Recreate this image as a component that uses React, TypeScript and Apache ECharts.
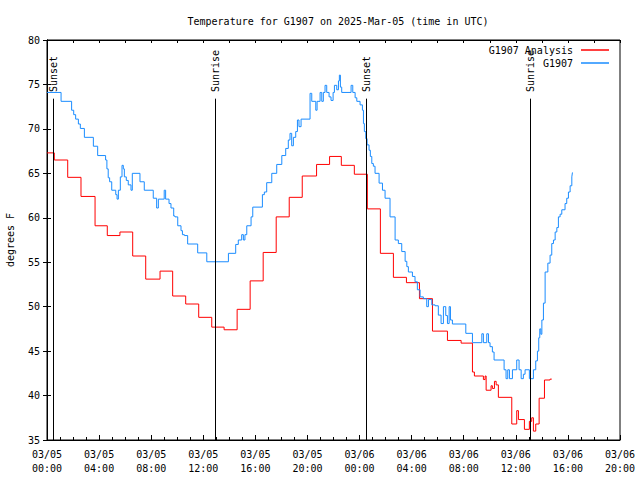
import React, { useEffect, useRef } from "react";
import * as echarts from "echarts";

// time in hours since 2025-03-05 00:00 UTC
const analysisTimes = [0, 0.56, 1.59, 2.61, 3.69, 4.63, 5.6, 6.58, 7.58, 8.68, 9.65, 10.65, 11.65, 12.65, 13.6, 14.6, 15.6, 16.6, 17.6, 18.6, 19.6, 20.7, 21.7, 22.6, 23.6, 24.6, 25.6, 26.6, 27.6, 28.6, 29.6, 30.75, 31.8, 32.67, 32.82, 33.51, 33.64, 33.72, 34.1, 34.2, 34.36, 34.49, 34.66, 35.69, 36.07, 36.2, 36.66, 37.04, 37.22, 37.35, 37.53, 37.79, 38.2, 38.63, 38.76];
const analysisValues = [67.3, 66.5, 64.55, 62.4, 59.1, 58.0, 58.4, 55.7, 53.1, 54.0, 51.2, 50.3, 48.8, 47.7, 47.4, 49.7, 52.9, 56.1, 60.1, 62.3, 64.7, 66.0, 66.9, 65.9, 64.9, 61.0, 56.0, 53.3, 52.7, 50.9, 47.25, 46.2, 45.9, 42.65, 42.2, 41.8, 42.2, 40.6, 41.1, 40.8, 41.6, 41.2, 39.8, 36.8, 38.3, 37.3, 36.2, 37.1, 37.5, 36.0, 36.8, 39.7, 41.75, 41.85, 41.85];

const stationTimes = [0, 1.08, 1.89, 2.05, 2.2, 2.41, 2.56, 2.87, 3.56, 3.89, 4.5, 4.6, 4.7, 4.81, 4.97, 5.28, 5.38, 5.48, 5.63, 5.76, 5.86, 5.94, 6.09, 6.24, 6.45, 6.55, 7.14, 7.47, 8.16, 8.42, 8.55, 9.0, 9.11, 9.37, 9.52, 9.73, 9.83, 10.04, 10.29, 10.4, 10.55, 10.8, 11.57, 12.27, 13.93, 14.49, 14.69, 14.95, 15.08, 15.2, 15.34, 15.67, 15.8, 16.54, 16.69, 16.87, 17.26, 17.64, 18.03, 18.33, 18.53, 18.66, 18.79, 18.92, 19.1, 19.23, 19.35, 19.51, 20.2, 20.33, 20.64, 20.74, 20.97, 21.1, 21.22, 21.35, 21.48, 21.66, 21.81, 21.97, 22.07, 22.25, 22.38, 22.45, 22.53, 22.63, 23.35, 23.48, 23.66, 23.79, 24.04, 24.22, 24.3, 24.37, 24.48, 24.58, 24.73, 24.83, 24.94, 25.06, 25.19, 25.5, 25.76, 25.96, 26.34, 26.73, 26.98, 27.24, 27.5, 27.63, 27.75, 28.06, 28.26, 28.44, 28.65, 28.9, 29.16, 29.29, 29.55, 29.8, 30.05, 30.26, 30.44, 30.62, 30.75, 30.88, 30.98, 31.13, 32.16, 32.67, 33.39, 33.51, 33.77, 33.9, 34.02, 34.2, 34.33, 35.1, 35.25, 35.38, 35.51, 35.74, 36.07, 36.25, 36.41, 36.58, 36.71, 37.04, 37.35, 37.53, 37.66, 37.76, 37.84, 37.92, 38.0, 38.12, 38.25, 38.46, 38.63, 38.76, 38.89, 39.02, 39.15, 39.27, 39.4, 39.53, 39.78, 39.91, 40.04, 40.17, 40.3, 40.35];
const stationValues = [74.1, 73.1, 72.1, 71.6, 71.1, 70.55, 70.05, 69.05, 68.05, 67.0, 66.5, 65.5, 64.5, 64.05, 63.1, 62.6, 62.1, 63.1, 64.6, 65.9, 65.5, 64.6, 64.2, 63.7, 63.1, 65.0, 64.05, 63.1, 62.2, 61.1, 62.1, 63.1, 62.1, 61.6, 61.1, 60.2, 60.1, 59.1, 58.55, 58.1, 58.0, 57.05, 56.05, 55.05, 56.0, 57.0, 57.5, 58.1, 57.5, 58.1, 59.1, 60.1, 61.2, 62.6, 62.9, 63.95, 65.0, 66.0, 67.0, 67.8, 68.75, 69.5, 68.1, 69.05, 69.7, 71.0, 70.25, 71.1, 74.0, 73.1, 72.1, 73.1, 74.1, 73.1, 74.1, 74.9, 74.1, 73.6, 73.2, 74.1, 74.9, 74.4, 75.4, 76.05, 74.7, 74.1, 74.9, 74.1, 73.5, 73.1, 72.7, 72.1, 70.6, 69.7, 68.9, 68.2, 67.6, 66.9, 66.1, 65.8, 65.0, 63.9, 63.1, 62.2, 60.1, 57.5, 57.1, 56.2, 55.1, 54.5, 53.9, 53.4, 52.8, 51.9, 51.1, 50.9, 50.0, 50.8, 50.2, 50.1, 49.05, 48.1, 50.0, 49.0, 48.1, 50.0, 48.5, 48.05, 47.0, 45.95, 46.95, 45.95, 46.95, 45.95, 45.5, 44.9, 44.0, 42.9, 41.9, 42.9, 41.9, 42.9, 44.0, 42.9, 41.9, 42.4, 42.9, 41.9, 42.9, 43.9, 45.0, 46.5, 47.5, 46.9, 48.5, 50.4, 53.9, 54.9, 55.8, 57.1, 57.5, 58.4, 58.9, 60.1, 60.4, 60.9, 61.6, 62.2, 62.9, 63.6, 64.6, 65.1];

const sunTimes = [0.48, 12.92, 24.53, 37.07];
const sunNames = ["Sunset", "Sunrise", "Sunset", "Sunrise"];

const xTickHours = [0, 4, 8, 12, 16, 20, 24, 28, 32, 36, 40, 44];
const yTicks = [35, 40, 45, 50, 55, 60, 65, 70, 75, 80];

const FONT = "'DejaVu Sans Mono', monospace";

function fmtHour(h: number): string {
  const day = 5 + Math.floor(h / 24);
  const hr = Math.round(h % 24);
  return `03/${String(day).padStart(2, "0")}\n${String(hr).padStart(2, "0")}:00`;
}

export default function App() {
  const ref = useRef<HTMLDivElement>(null);
  useEffect(() => {
    if (!ref.current) return;
    const chart = echarts.init(ref.current, null, { renderer: "svg" });
    const xMin = xTickHours[0];
    const xMax = xTickHours[xTickHours.length - 1];
    const yMin = yTicks[0];
    const yMax = yTicks[yTicks.length - 1];
    const textStyle = { fontFamily: FONT, fontSize: 10, color: "#000" };
    const legendCommon = {
      right: 26,
      orient: "vertical",
      align: "right",
      icon: "rect",
      itemWidth: 28,
      itemHeight: 1.5,
      textStyle: { ...textStyle, padding: [0, 3, 0, 0] },
    };
    const option: any = {
      animation: false,
      backgroundColor: "#fff",
      title: {
        text: "Temperature for G1907 on 2025-Mar-05 (time in UTC)",
        left: 333,
        textAlign: "center",
        top: 11,
        textStyle: { ...textStyle, fontWeight: "normal" },
      },
      legend: [
        { ...legendCommon, data: ["G1907 Analysis"], top: 40 },
        { ...legendCommon, data: ["G1907"], top: 53 },
      ],
      grid: {
        left: 47,
        right: 20,
        top: 40,
        bottom: 40,
        containLabel: false,
        outerBoundsMode: "none",
        show: true,
        borderColor: "#000",
        borderWidth: 1,
        backgroundColor: "transparent",
      },
      xAxis: [
        {
          type: "value",
          min: xMin,
          max: xMax,
          interval: 4,
          position: "bottom",
          axisLine: { show: true, lineStyle: { color: "#000", width: 1 } },
          axisTick: { show: true, inside: true, length: 5, lineStyle: { color: "#000" } },
          minorTick: { show: true, splitNumber: 4, length: 3, lineStyle: { color: "#000" } },
          splitLine: { show: false },
          axisLabel: {
            ...textStyle,
            margin: 7,
            lineHeight: 14,
            formatter: (v: number) => fmtHour(v),
          },
        },
        {
          type: "value",
          min: xMin,
          max: xMax,
          interval: 2,
          position: "top",
          axisLine: { show: true, lineStyle: { color: "#000", width: 1 } },
          axisTick: { show: true, inside: true, length: 3, lineStyle: { color: "#000" } },
          splitLine: { show: false },
          axisLabel: { show: false },
        },
      ],
      yAxis: [
        {
          type: "value",
          min: yMin,
          max: yMax,
          interval: 5,
          position: "left",
          name: "degrees F",
          nameLocation: "middle",
          nameGap: 32,
          nameRotate: 90,
          nameTextStyle: { ...textStyle },
          axisLine: { show: true, lineStyle: { color: "#000", width: 1 } },
          axisTick: { show: true, inside: true, length: 4, lineStyle: { color: "#000" } },
          splitLine: { show: false },
          axisLabel: { ...textStyle, margin: 7 },
        },
        {
          type: "value",
          min: yMin,
          max: yMax,
          interval: 5,
          position: "right",
          axisLine: { show: true, lineStyle: { color: "#000", width: 1 } },
          axisTick: { show: true, inside: true, length: 4, lineStyle: { color: "#000" } },
          splitLine: { show: false },
          axisLabel: { show: false },
        },
      ],
      series: [
        {
          name: "G1907 Analysis",
          type: "line",
          step: "end",
          showSymbol: false,
          symbol: "none",
          itemStyle: { color: "#ff0000" },
          lineStyle: { color: "#ff0000", width: 1 },
          data: analysisTimes.map((t, i) => [t, analysisValues[i]]),
          z: 3,
        },
        {
          name: "G1907",
          type: "line",
          step: "end",
          showSymbol: false,
          symbol: "none",
          itemStyle: { color: "#1a8cff" },
          lineStyle: { color: "#1a8cff", width: 1 },
          data: stationTimes.map((t, i) => [t, stationValues[i]]),
          z: 4,
        },
        {
          name: "sun",
          type: "custom",
          clip: false,
          z: 5,
          data: sunTimes.map((t, i) => [t, i]),
          renderItem: (params: any, api: any) => {
            const t = api.value(0);
            const idx = api.value(1);
            const p0 = api.coord([t, yMin]);
            const p1 = api.coord([t, 73.4]);
            const pt = api.coord([t, 74.15]);
            return {
              type: "group",
              children: [
                {
                  type: "line",
                  shape: { x1: Math.round(p0[0]) + 0.5, y1: p0[1], x2: Math.round(p0[0]) + 0.5, y2: p1[1] },
                  style: { stroke: "#000", lineWidth: 1 },
                },
                {
                  type: "text",
                  x: Math.round(pt[0]) + 0.5,
                  y: pt[1],
                  rotation: Math.PI / 2,
                  style: {
                    text: sunNames[idx],
                    fill: "#000",
                    font: `10px ${FONT}`,
                    align: "left",
                    verticalAlign: "middle",
                  },
                },
              ],
            };
          },
        },
      ],
    };
    chart.setOption(option);
    return () => chart.dispose();
  }, []);
  return (
    <div
      ref={ref}
      style={{ position: "absolute", left: 0, top: 0, width: 640, height: 480 }}
    />
  );
}
